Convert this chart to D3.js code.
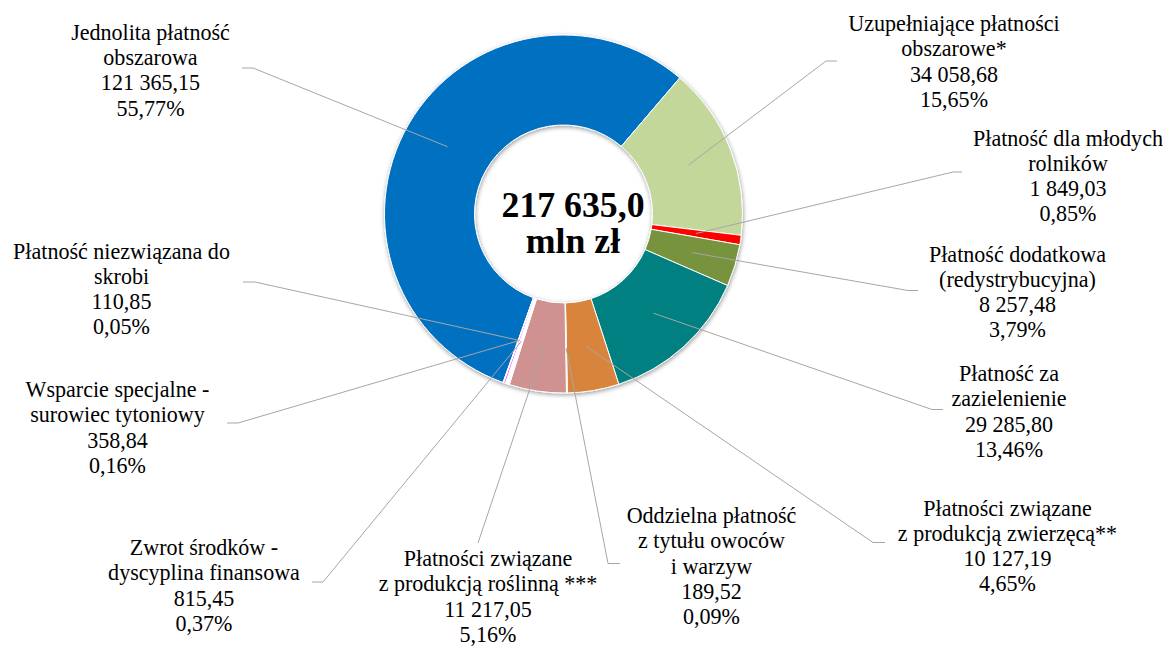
<!DOCTYPE html>
<html>
<head>
<meta charset="utf-8">
<script src="https://cdn.jsdelivr.net/npm/d3@7"></script>
<style>
  body { margin: 0; background: #fff; }
</style>
</head>
<body>
<svg id="chart"></svg>
<script>
// clockwise order, starting with the big blue slice
var categories = [
  ["Jednolita płatność", "obszarowa"],
  ["Uzupełniające płatności", "obszarowe*"],
  ["Płatność dla młodych", "rolników"],
  ["Płatność dodatkowa", "(redystrybucyjna)"],
  ["Płatność za", "zazielenienie"],
  ["Płatności związane", "z produkcją zwierzęcą**"],
  ["Oddzielna płatność", "z tytułu owoców", "i warzyw"],
  ["Płatności związane", "z produkcją roślinną ***"],
  ["Zwrot środków -", "dyscyplina finansowa"],
  ["Wsparcie specjalne -", "surowiec tytoniowy"],
  ["Płatność niezwiązana do", "skrobi"]
];
var values = [121365.15, 34058.68, 1849.03, 8257.48, 29285.80, 10127.19, 189.52, 11217.05, 815.45, 358.84, 110.85];
var percents = ["55,77%", "15,65%", "0,85%", "3,79%", "13,46%", "4,65%", "0,09%", "5,16%", "0,37%", "0,16%", "0,05%"];
var centerLines = ["217 635,0", "mln zł"];

var colors = ["#0070C0", "#C4D79B", "#FF0000", "#77933C", "#008080", "#D8843E",
  "#D8843E", "#D09191", "#FFFFFF", "#FF40FF", "#FFFFFF"];

// label placement: [center x, first baseline], leader start + elbow
var labelPos = [
  [150.5, 39.7], [954, 31], [1068, 145.5], [1017.5, 261.5], [1009, 381],
  [1007.5, 515.5], [711.5, 523], [488, 566], [204, 555], [117.5, 397], [121.5, 258.5]
];
var leaders = [
  [[242, 68], [253, 68]],
  [[837, 61], [826, 61]],
  [[962, 172], [953, 172]],
  [[918, 290.5], [908, 290.5]],
  [[943, 409.5], [932, 409.5]],
  [[885, 542.5], [873, 542.5]],
  [[620, 563.5], [608, 563.5]],
  [[478, 543]],
  [[312, 582], [323, 582]],
  [[227, 423], [238, 423]],
  [[243, 282], [255, 282]]
];

var w = 1168;
var h = 646;
var cx = 563.5, cy = 214;
var outerR = 179, innerR = 89;
var lineH = 25.3;
var font = "'Liberation Serif', 'Tinos', 'Times New Roman', 'DejaVu Serif', serif";

var svg = d3.select("#chart")
  .attr("width", w)
  .attr("height", h);

// fit font size to the reference text widths
function fitSize(str, target, weight) {
  var t = svg.append("text")
    .attr("font-family", font)
    .attr("font-weight", weight)
    .attr("font-size", 20)
    .text(str);
  var len = t.node().getComputedTextLength();
  t.remove();
  return 20 * target / len;
}
var labelSize = fitSize("Płatność niezwiązana do", 217, "normal");
var centerSize = fitSize("217 635,0", 143, "bold");

var defs = svg.append("defs");
defs.append("filter")
  .attr("id", "shadow")
  .attr("x", "-20%").attr("y", "-20%")
  .attr("width", "140%").attr("height", "140%")
  .append("feDropShadow")
  .attr("dx", 0.5)
  .attr("dy", 1.5)
  .attr("stdDeviation", 2)
  .attr("flood-color", "#000")
  .attr("flood-opacity", 0.4);

var total = d3.sum(values);
var endFirst = 40.5 * Math.PI / 180;
var start = endFirst - 2 * Math.PI * values[0] / total;

var pie = d3.pie()
  .sort(null)
  .value(function(d){ return d; })
  .startAngle(start)
  .endAngle(start + 2 * Math.PI);

var arc = d3.arc()
  .innerRadius(innerR)
  .outerRadius(outerR);

var arcs = pie(values);

var g = svg.append("g")
  .attr("transform", "translate(" + cx + "," + cy + ")");

g.append("g")
  .attr("filter", "url(#shadow)")
  .selectAll("path")
  .data(arcs)
  .enter()
  .append("path")
  .attr("d", arc)
  .attr("fill", function(d, i){ return colors[i]; })
  .attr("stroke", "#fff")
  .attr("stroke-width", 1)
  .attr("stroke-linejoin", "round");

// leader lines
var line = d3.line();
svg.append("g")
  .selectAll("path")
  .data(arcs)
  .enter()
  .append("path")
  .attr("d", function(d, i){
    var c = arc.centroid(d);
    var pts = leaders[i].slice();
    pts.push([c[0] + cx, c[1] + cy]);
    return line(pts);
  })
  .attr("fill", "none")
  .attr("stroke", "#A6A6A6")
  .attr("stroke-width", 1);

// labels
var fmt = d3.formatLocale({decimal: ",", thousands: " ", grouping: [3], currency: ["", ""]}).format(",.2f");

var labels = svg.append("g")
  .selectAll("text")
  .data(arcs)
  .enter()
  .append("text")
  .attr("text-anchor", "middle")
  .attr("font-family", font)
  .attr("font-size", labelSize)
  .attr("fill", "#000");

labels.each(function(d, i){
  var t = d3.select(this);
  var lines = categories[i].concat([fmt(values[i]), percents[i]]);
  lines.forEach(function(s, k){
    t.append("tspan")
      .attr("x", labelPos[i][0])
      .attr("y", labelPos[i][1] + k * lineH)
      .text(s);
  });
});

// total in the hole
svg.append("g")
  .selectAll("text")
  .data(centerLines)
  .enter()
  .append("text")
  .attr("x", 573)
  .attr("y", function(d, i){ return 216.7 + i * 36; })
  .attr("text-anchor", "middle")
  .attr("font-family", font)
  .attr("font-size", centerSize)
  .attr("font-weight", "bold")
  .attr("fill", "#000")
  .text(function(d){ return d; });
</script>
</body>
</html>
